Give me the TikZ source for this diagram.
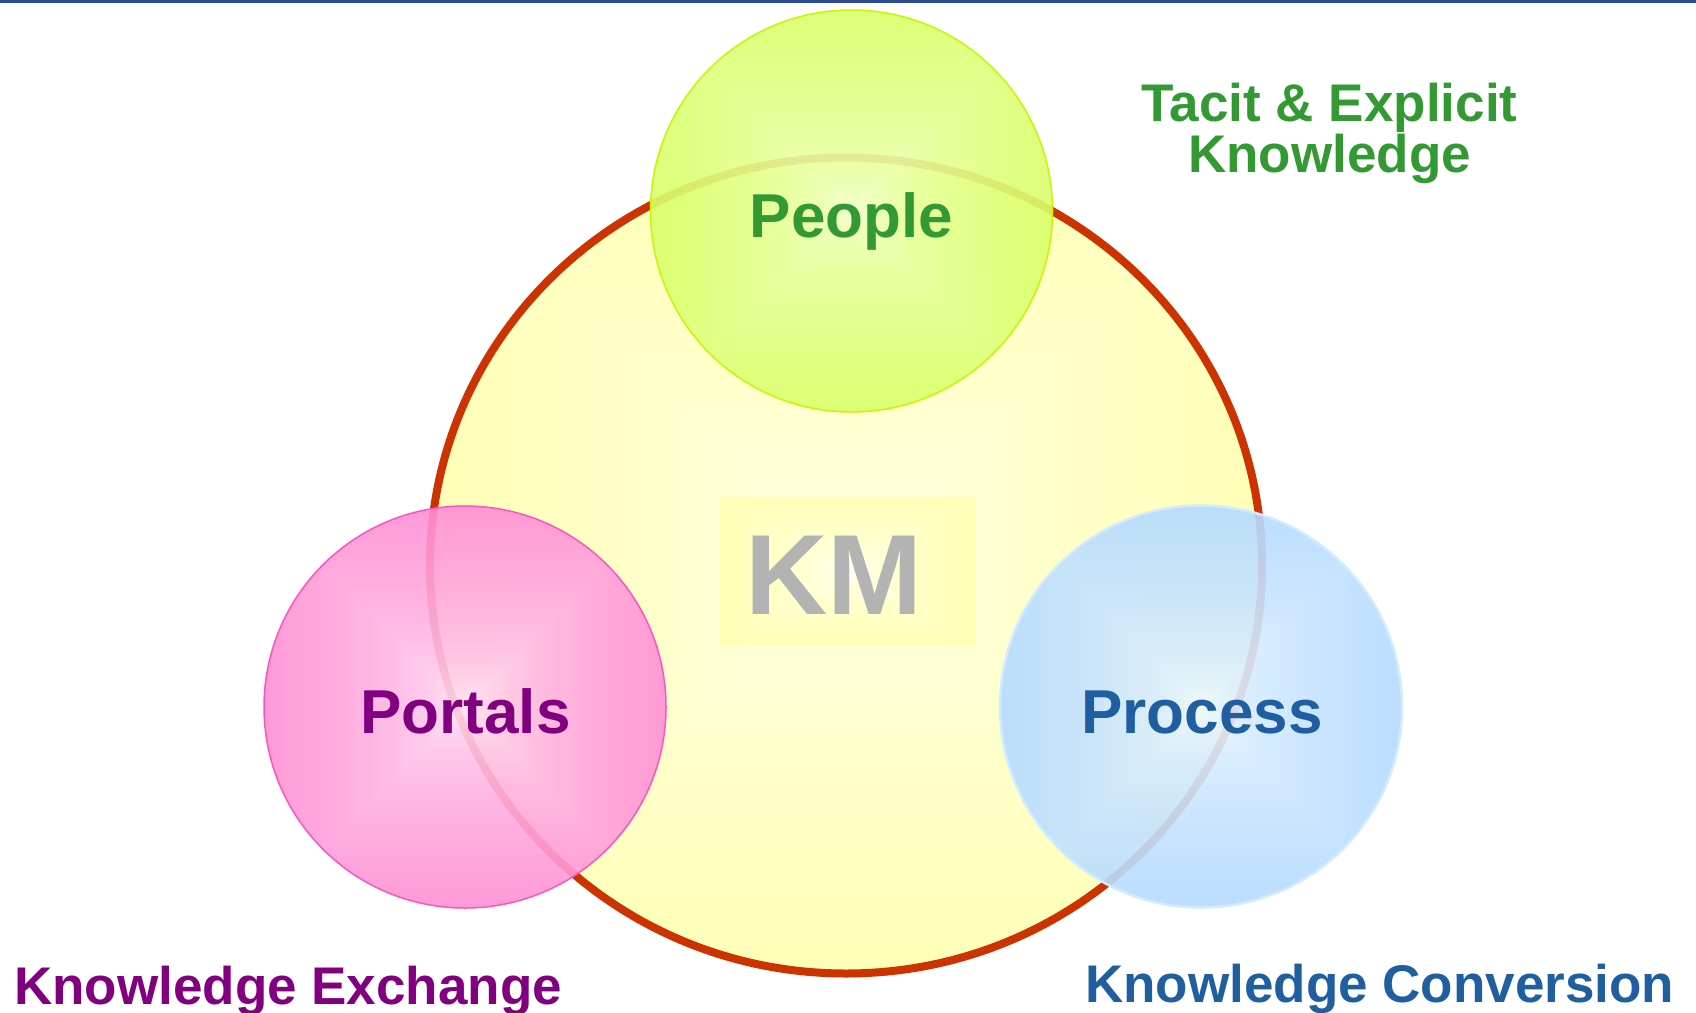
\documentclass[tikz,border=0pt]{standalone}
\usepackage{fontspec}
\setmainfont{Liberation Sans}
\usetikzlibrary{shapes.geometric}

\definecolor{ringred}{HTML}{CC3300}
\definecolor{peoplegreen}{HTML}{339933}
\definecolor{portalpurple}{HTML}{800080}
\definecolor{processblue}{HTML}{1F5FA0}
\definecolor{kmgray}{HTML}{B3B3B3}
\definecolor{topblue}{HTML}{2E4A94}
\definecolor{peopleedge}{HTML}{C8F500}
\definecolor{portalsedge}{HTML}{FF55BB}
\definecolor{processedge}{HTML}{D2ECFF}

% Square "glow" shading: colour #2-#4 in the middle, #5-#7 at the rim,
% interpolated on max(|x|,|y|) so that the gradient runs in square rings.
\newcommand\declareglow[7]{%
  \pgfdeclarefunctionalshading{#1}{\pgfpoint{-50bp}{-50bp}}{\pgfpoint{50bp}{50bp}}{}{%
    abs exch abs 2 copy lt {exch} if pop 50 div sqrt
    dup #5 #2 sub mul #2 add exch
    dup #6 #3 sub mul #3 add exch
    #7 #4 sub mul #4 add
  }}
\declareglow{ringglow}{1}{1}{0.96}{1}{1}{0.62}
\declareglow{peopleglow}{0.97}{1}{0.88}{0.80}{1}{0.22}
\declareglow{portalsglow}{1}{0.95}{0.98}{1}{0.40}{0.78}
\declareglow{processglow}{0.97}{0.99}{1}{0.60}{0.80}{1}
\declareglow{kmglow}{1}{1}{1}{1}{1}{0.55}

\begin{document}
\begin{tikzpicture}[x=1pt,y=-1pt,
  bubble/.style={circle, minimum size=402pt, inner sep=0pt,
    fill opacity=0.9, line width=1.5pt},
  bubbletext/.style={font=\bfseries\fontsize{62}{62}\selectfont,
    anchor=base, inner sep=0pt},
  caption/.style={font=\bfseries\fontsize{53}{53}\selectfont, inner sep=0pt}]

\useasboundingbox (0,0) rectangle (1696,1012);
\fill[white] (0,0) rectangle (1696,1012);
\fill[topblue] (0,0) rectangle (1696,2.5);

% the KM ring
\node[ellipse, minimum width=832pt, minimum height=816pt, inner sep=0pt,
  shading=ringglow, draw=ringred, line width=8pt] (ring) at (846,565.5) {};

% KM label on its soft yellow plate
\node[rectangle, minimum width=256pt, minimum height=148pt, inner sep=0pt,
  shading=kmglow, fill opacity=0.8] (kmplate) at (848,571) {};
\node[font=\bfseries\fontsize{114}{114}\selectfont, text=kmgray,
  anchor=base, inner sep=0pt] (km) at (834,614) {KM};

% the three bubbles
\node[bubble, shading=peopleglow, draw=peopleedge] (people) at (851.5,211) {};
\node[bubble, shading=portalsglow, draw=portalsedge] (portals) at (465,707) {};
\node[bubble, shading=processglow, draw=processedge, line width=2.5pt] (process) at (1201,706.5) {};

\node[bubbletext, text=peoplegreen] (peopletext) at (851.5,237) {People};
\node[bubbletext, text=portalpurple] (portalstext) at (465.5,733) {Portals};
\node[bubbletext, text=processblue] (processtext) at (1202,733) {Process};

% captions
\node[caption, text=peoplegreen, anchor=base] (tacit) at (1329.5,121) {Tacit \& Explicit};
\node[caption, text=peoplegreen, anchor=base] (tacitknow) at (1329.5,172) {Knowledge};
\node[caption, text=portalpurple, anchor=base west] (exchange) at (14,1004) {Knowledge Exchange};
\node[caption, text=processblue, anchor=base west] (conversion) at (1085,1002) {Knowledge Conversion};
\end{tikzpicture}
\end{document}
